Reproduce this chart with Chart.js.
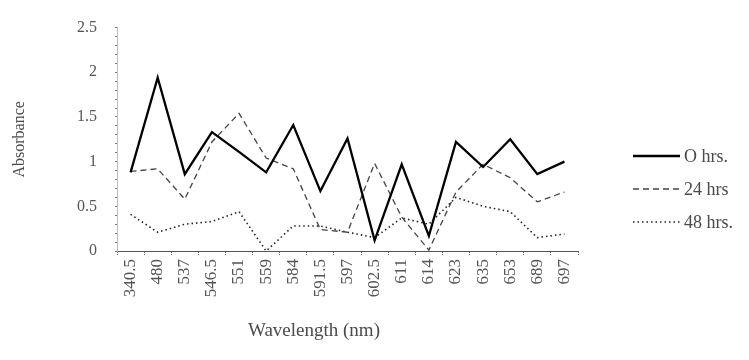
<!DOCTYPE html>
<html>
<head>
<meta charset="utf-8">
<script src="https://cdn.jsdelivr.net/npm/chart.js@4/dist/chart.umd.min.js"></script>
<style>
  html, body { margin: 0; padding: 0; background: #fff; }
  #wrap { width: 749px; height: 360px; position: relative; }
</style>
</head>
<body>
<div id="wrap"><canvas id="c"></canvas></div>
<script>
// Wavelengths (nm) on the category axis
const wavelengths = ['340.5', '480', '537', '546.5', '551', '559', '584', '591.5', '597',
                     '602.5', '611', '614', '623', '635', '653', '689', '697'];

// Absorbance readings after each incubation time
const hrs0  = [0.88, 1.94, 0.86, 1.33, 1.11, 0.88, 1.41, 0.67, 1.26, 0.12, 0.97, 0.17, 1.22, 0.94, 1.25, 0.86, 1.00];
const hrs24 = [0.89, 0.92, 0.58, 1.22, 1.54, 1.04, 0.92, 0.24, 0.21, 0.98, 0.38, 0.01, 0.66, 0.97, 0.82, 0.55, 0.66];
const hrs48 = [0.41, 0.21, 0.30, 0.33, 0.44, 0.00, 0.28, 0.28, 0.21, 0.15, 0.37, 0.30, 0.60, 0.50, 0.44, 0.15, 0.19];

const seriesNames = ['O hrs.', '24 hrs', '48 hrs.'];

const serif = '"Liberation Serif", "Times New Roman", serif';
const textGray = '#4a4a4a';

// Legend drawn beside the plot from the datasets' own styles
const sideLegend = {
  id: 'sideLegend',
  afterDraw(chart) {
    const ctx = chart.ctx;
    const x0 = 633, x1 = 680, tx = 684;
    const ys = [156, 189, 222];
    chart.data.datasets.forEach((ds, i) => {
      ctx.save();
      ctx.strokeStyle = ds.borderColor;
      ctx.lineWidth = ds.borderWidth;
      ctx.setLineDash(ds.borderDash || []);
      ctx.beginPath();
      ctx.moveTo(x0, ys[i]);
      ctx.lineTo(x1, ys[i]);
      ctx.stroke();
      ctx.setLineDash([]);
      ctx.fillStyle = textGray;
      ctx.font = '18px ' + serif;
      ctx.textBaseline = 'middle';
      ctx.textAlign = 'left';
      ctx.fillText(ds.label, tx, ys[i] + 1);
      ctx.restore();
    });
  }
};

// X axis title, placed under the rotated tick labels
const xTitle = {
  id: 'xTitle',
  afterDraw(chart) {
    const ctx = chart.ctx;
    ctx.save();
    ctx.fillStyle = textGray;
    ctx.font = '19px ' + serif;
    ctx.textAlign = 'center';
    ctx.textBaseline = 'middle';
    ctx.fillText('Wavelength (nm)', 314, 331);
    ctx.restore();
  }
};

new Chart(document.getElementById('c'), {
  type: 'line',
  data: {
    labels: wavelengths,
    datasets: [
      { label: seriesNames[0], data: hrs0, borderColor: '#000', borderWidth: 2.3, borderDash: [] },
      { label: seriesNames[1], data: hrs24, borderColor: '#444', borderWidth: 1.3, borderDash: [6, 4] },
      { label: seriesNames[2], data: hrs48, borderColor: '#222', borderWidth: 1.6, borderDash: [1.5, 3] }
    ]
  },
  options: {
    responsive: true,
    maintainAspectRatio: false,
    animation: false,
    elements: { point: { radius: 0 }, line: { tension: 0, fill: false } },
    layout: { padding: { left: 8, right: 171, top: 25, bottom: 0 } },
    plugins: { legend: { display: false }, tooltip: { enabled: false } },
    scales: {
      x: {
        offset: true,
        afterFit(s) { s.height = 109; },
        grid: { drawOnChartArea: false, drawTicks: true, tickLength: 4, offset: true,
                color: '#666', tickBorderDash: [1, 1] },
        border: { display: true, color: '#555', width: 1, dash: [1, 1] },
        ticks: { minRotation: 90, maxRotation: 90, autoSkip: false, padding: 4,
                 color: '#555', font: { family: serif, size: 17 } }
      },
      y: {
        min: 0, max: 2.5,
        afterFit(s) { s.width = 109; },
        grid: { drawOnChartArea: false, drawTicks: true, tickLength: 2, color: '#777' },
        border: { display: true, color: '#bbb', width: 1, dash: [1, 2] },
        ticks: {
          stepSize: 0.1, autoSkip: false, padding: 18, color: '#555',
          font: { family: serif, size: 16 },
          callback(v) {
            const h = v * 2;
            return Math.abs(h - Math.round(h)) < 1e-6 ? String(Math.round(v * 10) / 10) : '';
          }
        },
        title: { display: true, text: 'Absorbance', color: textGray, padding: { top: 2, bottom: 4 },
                 font: { family: serif, size: 16 } }
      }
    }
  },
  plugins: [sideLegend, xTitle]
});
</script>
</body>
</html>
